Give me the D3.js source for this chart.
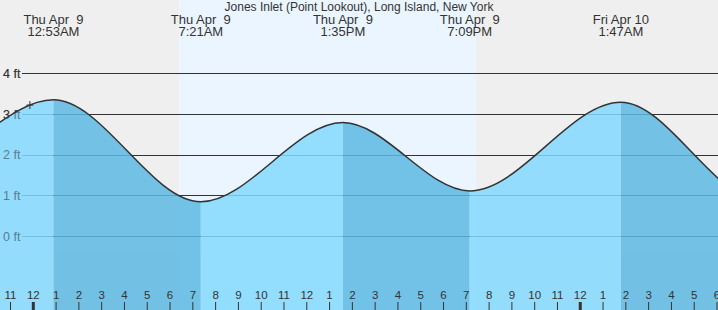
<!DOCTYPE html>
<html>
<head>
<meta charset="utf-8">
<script src="https://cdn.jsdelivr.net/npm/d3@7"></script>
<style>
	body { margin: 0; background: #efefef; }
	svg { display: block; }
	text { font-family: "Liberation Sans", Arial, sans-serif; fill: #333; }
</style>
</head>
<body>
<div id="tide_chart"></div>
<script>
// tide extrema (high / low) shown in the header
var tideTimes = [
	new Date(2026, 3, 9, 0, 53),
	new Date(2026, 3, 9, 7, 21),
	new Date(2026, 3, 9, 13, 35),
	new Date(2026, 3, 9, 19, 9),
	new Date(2026, 3, 10, 1, 47)
];
var tideHeights = [3.35, 0.84, 2.79, 1.11, 3.29];
var tideDays = ['Thu Apr  9', 'Thu Apr  9', 'Thu Apr  9', 'Thu Apr  9', 'Fri Apr 10'];
var tideClock = ['12:53AM', '7:21AM', '1:35PM', '7:09PM', '1:47AM'];

// extrema outside the window, so the curve runs off both edges
var beforeTimes = [new Date(2026, 3, 8, 12, 40), new Date(2026, 3, 8, 18, 48)];
var beforeHeights = [2.7, 1.7];
var afterTimes = [new Date(2026, 3, 10, 7, 53), new Date(2026, 3, 10, 14, 10)];
var afterHeights = [0.9, 2.7];

// daylight
var sunrise = new Date(2026, 3, 9, 6, 23);
var sunset = new Date(2026, 3, 9, 19, 25);

// current position marker
var nowTime = new Date(2026, 3, 8, 23, 51);
var nowHeight = 3.22;

var feetTicks = [0, 1, 2, 3, 4];
var windowStart = new Date(2026, 3, 8, 22, 32, 20);
var windowEnd = new Date(2026, 3, 10, 6, 2, 38);
var title = 'Jones Inlet (Point Lookout), Long Island, New York';

var width = 718;
var height = 310;
var lightFill = '#84d9ff';
var darkFill = '#5db9e3';

var x = d3.scaleTime().domain([windowStart, windowEnd]).range([0, width]);
var y = d3.scaleLinear().domain([0, 4]).range([236, 73.4]);

var svg = d3.select('#tide_chart')
	.append('svg')
		.attr('width', width)
		.attr('height', height);

// night / day background
svg.append('rect')
	.attr('width', width)
	.attr('height', height)
	.attr('fill', '#efefef');
svg.append('rect')
	.attr('x', x(sunrise))
	.attr('width', x(sunset) - x(sunrise))
	.attr('height', height)
	.attr('fill', '#ebf5ff');

// grid lines and foot labels (the water is drawn over them)
var drawFeetLabels = function(g, opacity)
{
	g.selectAll('text')
		.data(feetTicks)
		.enter().append('text')
			.attr('x', 3)
			.attr('y', d => y(d) + 4.5)
			.attr('font-size', '12.5px')
			.attr('opacity', opacity)
			.text(d => d + ' ft');
};
var grid = svg.append('g');
grid.selectAll('line')
	.data(feetTicks)
	.enter().append('line')
		.attr('x1', 22)
		.attr('x2', width)
		.attr('y1', d => Math.round(y(d)) + 0.5)
		.attr('y2', d => Math.round(y(d)) + 0.5)
		.attr('stroke', '#333')
		.attr('stroke-width', 1);
drawFeetLabels(grid, 1);

// the tide curve: extrema joined by monotone cubic
var points = [];
beforeTimes.forEach((t, i) => points.push({t: t, h: beforeHeights[i]}));
tideTimes.forEach((t, i) => points.push({t: t, h: tideHeights[i]}));
afterTimes.forEach((t, i) => points.push({t: t, h: afterHeights[i]}));

var area = d3.area()
	.x(d => x(d.t))
	.y0(height)
	.y1(d => y(d.h))
	.curve(d3.curveMonotoneX);
var line = d3.line()
	.x(d => x(d.t))
	.y(d => y(d.h))
	.curve(d3.curveMonotoneX);

svg.append('clipPath')
	.attr('id', 'water')
	.append('path')
		.attr('d', area(points));

// rising water light, falling water dark
var segments = d3.pairs(points);
svg.append('g')
	.attr('clip-path', 'url(#water)')
	.attr('opacity', 0.85)
	.selectAll('rect')
	.data(segments)
	.enter().append('rect')
		.attr('x', d => x(d[0].t))
		.attr('width', d => x(d[1].t) - x(d[0].t))
		.attr('height', height)
		.attr('fill', d => d[1].h > d[0].h ? lightFill : darkFill);

// labels show through the water a bit more than the lines do
drawFeetLabels(svg.append('g'), 0.45);

svg.append('path')
	.attr('d', line(points))
	.attr('fill', 'none')
	.attr('stroke', '#333')
	.attr('stroke-width', 1.5);

svg.append('path')
	.attr('transform', 'translate(' + x(nowTime) + ',' + y(nowHeight) + ')')
	.attr('d', 'M-3.5,0H3.5M0,-4V4')
	.attr('stroke', '#333')
	.attr('stroke-width', 1);

// header
svg.append('text')
	.attr('x', 359)
	.attr('y', 11)
	.attr('text-anchor', 'middle')
	.attr('font-size', '12px')
	.text(title);

var header = svg.selectAll('g.tide-label')
	.data(tideTimes)
	.enter().append('g')
		.attr('class', 'tide-label')
		.attr('transform', d => 'translate(' + x(d) + ',0)');
header.append('text')
	.attr('y', 24)
	.attr('text-anchor', 'middle')
	.attr('font-size', '13px')
	.style('white-space', 'pre')
	.text((d, i) => tideDays[i]);
header.append('text')
	.attr('y', 36)
	.attr('text-anchor', 'middle')
	.attr('font-size', '13px')
	.text((d, i) => tideClock[i]);

// hour axis along the bottom
var hours = d3.timeHour.range(windowStart, windowEnd);
var axis = svg.selectAll('g.hour')
	.data(hours)
	.enter().append('g')
		.attr('class', 'hour')
		.attr('transform', d => 'translate(' + x(d) + ',0)');
axis.append('rect')
	.attr('x', d => d.getHours() === 0 ? -1.5 : -0.5)
	.attr('y', 302)
	.attr('width', d => d.getHours() === 0 ? 3 : 1)
	.attr('height', 8)
	.attr('fill', '#333');
axis.append('text')
	.attr('y', 299)
	.attr('text-anchor', 'middle')
	.attr('font-size', '11.5px')
	.text(d3.timeFormat('%-I'));
</script>
</body>
</html>
